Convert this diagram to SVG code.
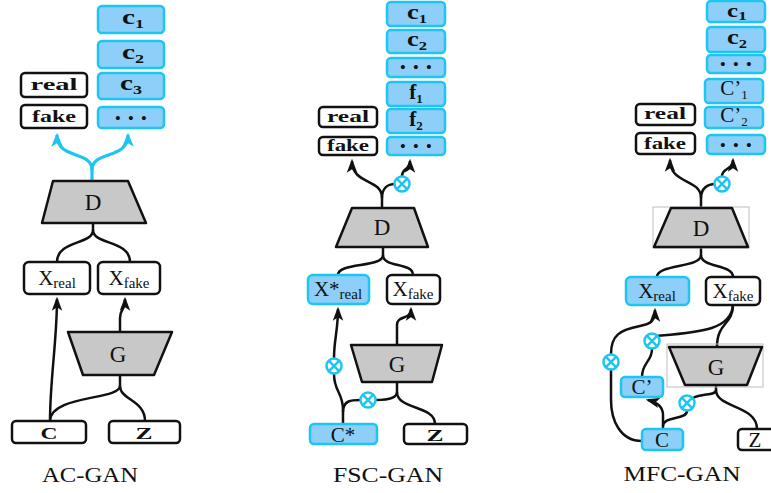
<svg xmlns="http://www.w3.org/2000/svg" width="771" height="493" viewBox="0 0 771 493">
<style>
.bw{fill:#fff;stroke:#111;stroke-width:2.5}
.bb{fill:#8dcff8;stroke:#1dc5f2;stroke-width:2.5}
.tr{fill:#c8c8c8;stroke:#111;stroke-width:2.5;stroke-linejoin:round}
.fr{fill:none;stroke:#bdbdbd;stroke-width:1}
.ln{fill:none;stroke:#111;stroke-width:2.5}
.lc{fill:none;stroke:#1dc5f2;stroke-width:3.2}
.ar{marker-end:url(#ah)}
.ac{marker-end:url(#ahc)}
text{font-family:"Liberation Serif","Times New Roman",serif;fill:#111;text-anchor:middle}
.b{font-weight:bold;font-size:17px}
.c{font-weight:bold;font-size:21px}
.s{font-size:13px}
.m{font-size:23px}
.x{font-size:21px}
.xs{font-size:15px}
.d{font-size:15px;font-weight:bold;letter-spacing:2px}
.cap{font-size:22px}
</style>
<defs>
<marker id="ah" viewBox="0 0 12 10" refX="10" refY="5" markerWidth="14" markerHeight="12" markerUnits="userSpaceOnUse" orient="auto"><path d="M0,0.5 L12,5 L0,9.5 L3,5 z" fill="#111"/></marker>
<marker id="ahc" viewBox="0 0 12 10" refX="10" refY="5" markerWidth="14" markerHeight="13" markerUnits="userSpaceOnUse" orient="auto"><path d="M0,0 L12,5 L0,10 L3,5 z" fill="#1dc5f2"/></marker>
<g id="xor"><circle r="7.5" fill="#fff" stroke="#1dc5f2" stroke-width="2.5"/><path d="M-5.3,-5.3 L5.3,5.3 M-5.3,5.3 L5.3,-5.3" stroke="#1dc5f2" stroke-width="2.5"/></g>
</defs>

<g id="connectors">
<!-- AC-GAN -->
<path class="lc ac" d="M92,181 L92,170 C92,150 57,160 57,135"/>
<path class="lc ac" d="M92,170 C92,150 128,160 128,135"/>
<path class="ln" d="M93,223 L93,230 C93,245 57,240 57,262"/>
<path class="ln" d="M93,230 C93,245 130,240 130,262"/>
<path class="ln ar" d="M50,421 C50,380 57,340 57,299"/>
<path class="ln ar" d="M120,332 L120,318 C120,308 125,312 125,299"/>
<path class="ln" d="M120,375 L120,386 C120,400 50,395 50,421"/>
<path class="ln" d="M120,386 C120,400 145,400 145,421"/>
<!-- FSC-GAN -->
<path class="ln ar" d="M382,208 L382,198 C382,178 352,185 352,161"/>
<path class="ln" d="M382,198 C382,188 388,184 395,184"/>
<path class="ln ar" d="M402,176 C402,168 410,170 410,161"/>
<path class="ln" d="M383,247 L383,255 C383,268 338,262 338,275"/>
<path class="ln" d="M383,255 C383,268 413,262 413,275"/>
<path class="ln ar" d="M397,345 L397,325 C397,315 411,320 411,309"/>
<path class="ln" d="M343,424 L343,410 C343,392 334,392 334,374"/>
<path class="ln ar" d="M334,358 C334,340 338,330 338,309"/>
<path class="ln" d="M343,412 C343,400 352,400 360,400"/>
<path class="ln" d="M397,382 L397,392 C397,398 388,400 376,400"/>
<path class="ln" d="M397,392 C397,410 435,405 435,424"/>
<use href="#xor" x="402" y="184"/>
<use href="#xor" x="334" y="366"/>
<use href="#xor" x="368" y="400"/>
<!-- MFC-GAN -->
<path class="ln ar" d="M701,208 L701,198 C701,178 670,185 670,160"/>
<path class="ln" d="M701,198 C701,188 708,184 715,184"/>
<path class="ln ar" d="M722,176 C722,168 733,170 733,160"/>
<path class="ln" d="M701,247 L701,255 C701,268 657,264 657,277"/>
<path class="ln" d="M701,255 C701,268 733,264 733,277"/>
<path class="ln" d="M733,305 C733,325 717,322 717,347"/>
<path class="ln" d="M733,305 C731,330 700,332 657,336"/>
<path class="ln" d="M652,349 C652,362 642,362 642,377"/>
<path class="ln ar" d="M663,429 L663,415 C663,406 656,402 648,400"/>
<path class="ln" d="M663,426 C663,416 687,420 687,411"/>
<path class="ln" d="M716,385 L716,390 C716,396 702,393 693,398"/>
<path class="ln" d="M716,390 C716,408 757,405 757,429"/>
<path class="ln" d="M642,441 C620,441 611,420 611,400 L611,370"/>
<path class="ln ar" d="M611,354 C611,335 620,330 640,326 C650,324 655,322 655,310"/>
<use href="#xor" x="722" y="184"/>
<use href="#xor" x="611" y="362"/>
<use href="#xor" x="652" y="341"/>
<use href="#xor" x="687" y="403"/>
</g>

<!-- ============ AC-GAN ============ -->
<g id="ac-c1"><rect class="bb" x="98" y="6" width="66" height="27" rx="4"/><text class="c" x="133" y="24" textLength="22" lengthAdjust="spacingAndGlyphs">c<tspan class="s" dy="4">1</tspan></text></g>
<g id="ac-c2"><rect class="bb" x="98" y="41" width="66" height="27" rx="4"/><text class="c" x="133" y="59" textLength="22" lengthAdjust="spacingAndGlyphs">c<tspan class="s" dy="4">2</tspan></text></g>
<g id="ac-c3"><rect class="bb" x="98" y="73" width="66" height="26" rx="4"/><text class="c" x="131" y="90" textLength="22" lengthAdjust="spacingAndGlyphs">c<tspan class="s" dy="4">3</tspan></text></g>
<g id="ac-dots"><rect class="bb" x="98" y="107" width="66" height="21" rx="4"/><text class="d" x="132" y="123">• • •</text></g>
<g id="ac-real"><rect class="bw" x="21" y="73" width="66" height="24" rx="4"/><text class="b" x="54" y="90" textLength="47" lengthAdjust="spacingAndGlyphs">real</text></g>
<g id="ac-fake"><rect class="bw" x="21" y="105" width="66" height="23" rx="4"/><text class="b" x="54" y="122" textLength="44" lengthAdjust="spacingAndGlyphs">fake</text></g>
<g id="ac-D"><polygon class="tr" points="53,181 128,181 146,223 42,223"/><text class="m" x="93" y="210">D</text></g>
<g id="ac-xreal"><rect class="bw" x="24" y="262" width="66" height="32" rx="5"/><text class="x" x="57" y="285">X<tspan class="xs" dy="3">real</tspan></text></g>
<g id="ac-xfake"><rect class="bw" x="98" y="262" width="62" height="32" rx="5"/><text class="x" x="129" y="285">X<tspan class="xs" dy="3">fake</tspan></text></g>
<g id="ac-G"><polygon class="tr" points="68,332 172,332 154,375 83,375"/><text class="m" x="118" y="362">G</text></g>
<g id="ac-C"><rect class="bw" x="12" y="421" width="74" height="22" rx="4"/><text class="b" x="49" y="439" textLength="17" lengthAdjust="spacingAndGlyphs">C</text></g>
<g id="ac-Z"><rect class="bw" x="109" y="421" width="71" height="22" rx="4"/><text class="b" x="144" y="439" textLength="17" lengthAdjust="spacingAndGlyphs">Z</text></g>
<text class="cap" x="90" y="482" textLength="96" lengthAdjust="spacingAndGlyphs">AC-GAN</text>

<!-- ============ FSC-GAN ============ -->
<g id="fsc-c1"><rect class="bb" x="387" y="2" width="58" height="24" rx="4"/><text class="c" x="417" y="19" textLength="20" lengthAdjust="spacingAndGlyphs">c<tspan class="s" dy="4">1</tspan></text></g>
<g id="fsc-c2"><rect class="bb" x="387" y="30" width="58" height="23" rx="4"/><text class="c" x="417" y="46" textLength="20" lengthAdjust="spacingAndGlyphs">c<tspan class="s" dy="4">2</tspan></text></g>
<g id="fsc-dots1"><rect class="bb" x="387" y="58" width="58" height="19" rx="4"/><text class="d" x="417" y="72">• • •</text></g>
<g id="fsc-f1"><rect class="bb" x="387" y="82" width="58" height="24" rx="4"/><text class="c" x="416" y="99">f<tspan class="s" dy="4">1</tspan></text></g>
<g id="fsc-f2"><rect class="bb" x="387" y="109" width="58" height="24" rx="4"/><text class="c" x="416" y="126">f<tspan class="s" dy="4">2</tspan></text></g>
<g id="fsc-dots2"><rect class="bb" x="387" y="137" width="58" height="18" rx="4"/><text class="d" x="417" y="151">• • •</text></g>
<g id="fsc-real"><rect class="bw" x="319" y="107" width="58" height="20" rx="4"/><text class="b" x="348" y="122" textLength="42" lengthAdjust="spacingAndGlyphs">real</text></g>
<g id="fsc-fake"><rect class="bw" x="319" y="137" width="58" height="18" rx="4"/><text class="b" x="348" y="151" textLength="42" lengthAdjust="spacingAndGlyphs">fake</text></g>
<g id="fsc-D"><polygon class="tr" points="352,208 414,208 428,247 336,247"/><text class="m" x="382" y="235">D</text></g>
<g id="fsc-xreal"><rect class="bb" x="308" y="275" width="61" height="29" rx="5"/><text class="x" x="338" y="296">X*<tspan class="xs" dy="3">real</tspan></text></g>
<g id="fsc-xfake"><rect class="bw" x="387" y="275" width="53" height="29" rx="5"/><text class="x" x="413" y="296">X<tspan class="xs" dy="3">fake</tspan></text></g>
<g id="fsc-G"><polygon class="tr" points="351,345 442,345 432,382 362,382"/><text class="m" x="397" y="372">G</text></g>
<g id="fsc-C"><rect class="bb" x="310" y="424" width="67" height="20" rx="4"/><text class="x" x="343" y="442">C*</text></g>
<g id="fsc-Z"><rect class="bw" x="404" y="424" width="63" height="20" rx="4"/><text class="b" x="435" y="441" textLength="17" lengthAdjust="spacingAndGlyphs">Z</text></g>
<text class="cap" x="388" y="482" textLength="110" lengthAdjust="spacingAndGlyphs">FSC-GAN</text>

<!-- ============ MFC-GAN ============ -->
<g id="mfc-c1"><rect class="bb" x="707" y="1" width="58" height="21" rx="4"/><text class="c" x="737" y="17" style="font-size:18px" textLength="20" lengthAdjust="spacingAndGlyphs">c<tspan class="s" dy="3">1</tspan></text></g>
<g id="mfc-c2"><rect class="bb" x="707" y="27" width="58" height="25" rx="4"/><text class="c" x="737" y="44" textLength="20" lengthAdjust="spacingAndGlyphs">c<tspan class="s" dy="4">2</tspan></text></g>
<g id="mfc-dots1"><rect class="bb" x="707" y="55" width="58" height="18" rx="4"/><text class="d" x="737" y="69">• • •</text></g>
<g id="mfc-cp1"><rect class="bb" x="705" y="79" width="58" height="24" rx="4"/><text class="x" x="734" y="95">C’<tspan class="s" dy="4">1</tspan></text></g>
<g id="mfc-cp2"><rect class="bb" x="705" y="107" width="58" height="21" rx="4"/><text class="x" x="734" y="122">C’<tspan class="s" dy="4">2</tspan></text></g>
<g id="mfc-dots2"><rect class="bb" x="707" y="135" width="58" height="19" rx="4"/><text class="d" x="737" y="150">• • •</text></g>
<g id="mfc-real"><rect class="bw" x="636" y="104" width="59" height="21" rx="4"/><text class="b" x="665" y="119" textLength="42" lengthAdjust="spacingAndGlyphs">real</text></g>
<g id="mfc-fake"><rect class="bw" x="636" y="133" width="59" height="21" rx="4"/><text class="b" x="665" y="149" textLength="42" lengthAdjust="spacingAndGlyphs">fake</text></g>
<g id="mfc-D"><rect class="fr" x="653" y="207" width="96" height="41"/><polygon class="tr" points="671,208 732,208 748,247 654,247"/><text class="m" x="701" y="236">D</text></g>
<g id="mfc-xreal"><rect class="bb" x="626" y="277" width="63" height="28" rx="5"/><text class="x" x="657" y="298">X<tspan class="xs" dy="3">real</tspan></text></g>
<g id="mfc-xfake"><rect class="bw" x="706" y="277" width="54" height="28" rx="5"/><text class="x" x="733" y="298">X<tspan class="xs" dy="3">fake</tspan></text></g>
<g id="mfc-G"><rect class="fr" x="667" y="344" width="96" height="43"/><polygon class="tr" points="669,347 762,347 747,385 685,385"/><text class="m" x="716" y="375">G</text></g>
<g id="mfc-Cp"><rect class="bb" x="621" y="377" width="42" height="20" rx="4"/><text class="x" x="642" y="394">C’</text></g>
<g id="mfc-C"><rect class="bb" x="642" y="429" width="41" height="21" rx="4"/><text class="x" x="662" y="447">C</text></g>
<g id="mfc-Z"><rect class="bw" x="738" y="429" width="36" height="21" rx="4"/><text class="x" x="755" y="447">Z</text></g>
<text class="cap" x="682" y="481" textLength="117" lengthAdjust="spacingAndGlyphs">MFC-GAN</text>
</svg>
